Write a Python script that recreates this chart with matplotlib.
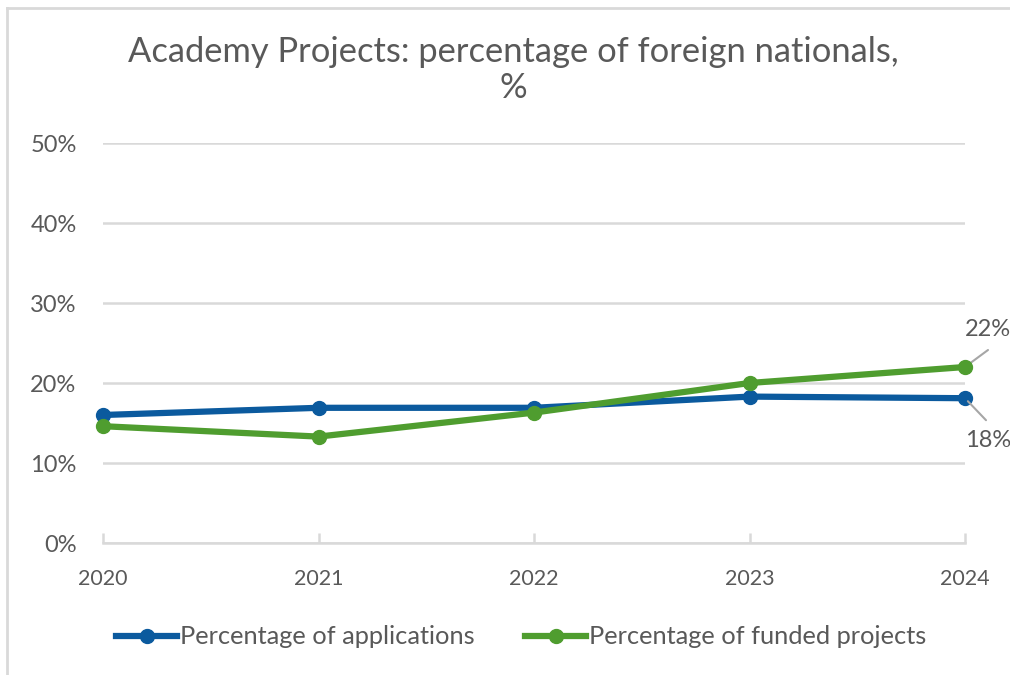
import matplotlib
matplotlib.use("Agg")
import matplotlib.pyplot as plt
from matplotlib.lines import Line2D

plt.rcParams['font.family'] = ['Lato', 'DejaVu Sans']

years = [2020, 2021, 2022, 2023, 2024]
applications = [16.0, 16.9, 16.9, 18.3, 18.1]
funded = [14.6, 13.3, 16.3, 20.0, 22.0]
yticks = [0, 10, 20, 30, 40, 50]

blue = "#0B5A9E"
green = "#4F9D2F"
grey_text = "#595959"
grid_col = "#D9D9D9"

fig = plt.figure(figsize=(10.1, 6.75), dpi=100)
ax = fig.add_axes([103 / 1010, 1 - 543 / 675, (965 - 103) / 1010, 400 / 675])

ax.plot(years, applications, color=blue, lw=4.5, marker="o", ms=10,
        clip_on=False, zorder=3, label="Percentage of applications")
ax.plot(years, funded, color=green, lw=4.5, marker="o", ms=10,
        clip_on=False, zorder=4, label="Percentage of funded projects")

ax.set_xlim(years[0], years[-1])
ax.set_ylim(0, 50)
ax.set_xticks(years)
ax.set_yticks(yticks)
ax.set_yticklabels([f"{v}%" for v in yticks])
ax.yaxis.grid(True, color=grid_col, lw=1.8)
ax.set_axisbelow(True)
for s in ["top", "right", "left"]:
    ax.spines[s].set_visible(False)
ax.spines["bottom"].set_color(grid_col)
ax.spines["bottom"].set_linewidth(1.8)
ax.tick_params(axis="x", direction="in", length=7, width=1.8, color=grid_col,
               labelcolor=grey_text, labelsize=15.5, pad=19)
ax.tick_params(axis="y", length=0, labelcolor=grey_text, labelsize=17, pad=19)

# end labels with leader lines
ax.annotate(f"{funded[-1]:.0f}%", xy=(years[-1], funded[-1]), xytext=(0, 37),
            textcoords="offset pixels", ha="left", va="center", fontsize=17,
            color=grey_text, annotation_clip=False)
ax.annotate("", xy=(years[-1], funded[-1]), xytext=(23, 17),
            textcoords="offset pixels", annotation_clip=False,
            arrowprops=dict(arrowstyle="-", color="#A6A6A6", lw=1.5,
                            shrinkA=0, shrinkB=3))
ax.annotate(f"{applications[-1]:.0f}%", xy=(years[-1], applications[-1]), xytext=(0, -42),
            textcoords="offset pixels", ha="left", va="center", fontsize=17,
            color=grey_text, annotation_clip=False)
ax.annotate("", xy=(years[-1], applications[-1]), xytext=(21, -22),
            textcoords="offset pixels", annotation_clip=False,
            arrowprops=dict(arrowstyle="-", color="#A6A6A6", lw=1.5,
                            shrinkA=0, shrinkB=3))

fig.text(0.508, 1 - 70 / 675, "Academy Projects: percentage of foreign nationals,\n%",
         ha="center", va="center", fontsize=24.8, color=grey_text, linespacing=1.15)

fig.legend(loc="center", bbox_to_anchor=(0.516, 1 - 637 / 675), ncol=2, frameon=False,
           fontsize=18.3, labelcolor=grey_text, handlelength=2.4, handletextpad=0.1,
           columnspacing=2.0)

# chart frame
fig.add_artist(Line2D([7 / 1010, 7 / 1010], [0, 1 - 8 / 675], color=grid_col, lw=2,
                      transform=fig.transFigure))
fig.add_artist(Line2D([7 / 1010, 1], [1 - 8 / 675, 1 - 8 / 675], color=grid_col, lw=2,
                      transform=fig.transFigure))

fig.savefig("out.png", dpi=100)
